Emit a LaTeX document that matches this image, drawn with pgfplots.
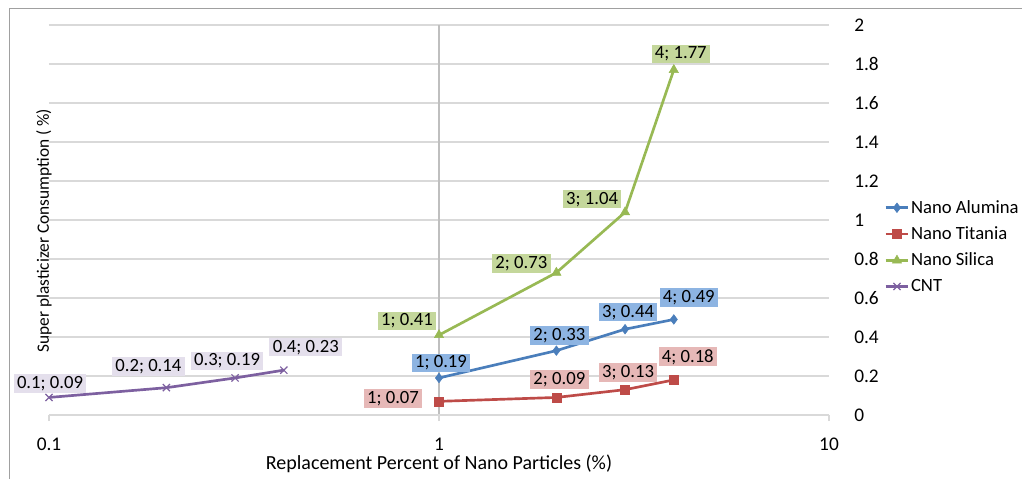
\documentclass[border=0pt]{standalone}
\usepackage{pgfplots}
\pgfplotsset{compat=1.18}
\usepackage{fontspec}
\setmainfont{Carlito}

\definecolor{alum}{HTML}{4A7EBB}
\definecolor{tita}{HTML}{BE4B48}
\definecolor{sili}{HTML}{98B954}
\definecolor{cnt}{HTML}{7D60A0}
\definecolor{alumL}{HTML}{8DB4E2}
\definecolor{titaL}{HTML}{E6B8B7}
\definecolor{siliL}{HTML}{C4D79B}
\definecolor{cntL}{HTML}{E4DFEC}
\definecolor{gridgray}{HTML}{D9D9D9}
\definecolor{axgray}{HTML}{BFBFBF}
\definecolor{framegray}{HTML}{A0A0A0}

\protected\def\sc{;}
% data label: fill colour, x, y, first part, x shift (pt), y shift (pt)
\newcommand{\lbl}[6]{%
  \addplot[forget plot, draw=none, mark=none,
    nodes near coords={#4\sc\ #3},
    every node near coord/.append style={anchor=center, xshift=#5pt, yshift=#6pt,
      fill=#1, text=black, font=\fontsize{14}{16}\selectfont, inner xsep=2.5pt, inner ysep=1.5pt}]
    coordinates {(#2,#3)};}

\begin{document}
\begin{tikzpicture}
\useasboundingbox (-36.75pt,-48pt) rectangle (729.75pt,311.25pt);
\begin{axis}[
  at={(0,0)}, anchor=south west,
  scale only axis, width=585pt, height=292.5pt,
  xmode=log, xmin=0.1, xmax=10, ymin=0, ymax=2,
  xtick={0.1,1,10}, xticklabels={0.1,1,10},
  xminorticks=false,
  ytick={0,0.2,0.4,0.6,0.8,1,1.2,1.4,1.6,1.8,2},
  yticklabels={0,0.2,0.4,0.6,0.8,1,1.2,1.4,1.6,1.8,2},
  yticklabel pos=right,
  xtick pos=left,
  ymajorgrids,
  major grid style={color=gridgray, line width=0.9pt},
  axis line style={draw=none},
  ytick style={draw=none},
  xtick style={draw=gridgray, line width=0.9pt},
  tick align=outside, major tick length=4.5pt,
  /pgf/number format/assume math mode=true,
  ticklabel style={font=\fontsize{14.5}{16}\selectfont},
  yticklabel style={anchor=west, inner sep=0pt, xshift=14.25pt},
  xticklabel style={anchor=base, inner sep=0pt, yshift=-21.75pt},
  every axis x label/.style={at={(rel axis cs:0.5,0)}, anchor=base, yshift=-40.5pt, font=\fontsize{15}{17}\selectfont},
  every axis y label/.style={at={(rel axis cs:0,0.5)}, rotate=90, anchor=base, xshift=-8pt, font=\fontsize{13}{15}\selectfont},
  xlabel={Replacement Percent of Nano Particles (\%)},
  ylabel={Super plasticizer Consumption ( \%)},
  clip=false,
  legend style={at={(1.0705,0.431)}, anchor=west, draw=none, fill=none,
    font=\fontsize{14}{16}\selectfont, inner sep=0pt,
    nodes={inner xsep=1pt, inner ysep=4.3pt}},
  legend cell align=left,
]
\draw[axgray, line width=1.5pt] (axis cs:1,0) -- (axis cs:1,2);
\draw[gridgray, line width=0.9pt] (axis cs:0.1,0) -- (axis cs:10,0);

\addplot[alum, line width=2pt, mark=diamond*, mark size=3.6pt, mark options={solid, line width=0.4pt}]
  coordinates {(1,0.19) (2,0.33) (3,0.44) (4,0.49)};
\addlegendentry{Nano Alumina}
\addplot[tita, line width=2pt, mark=square*, mark size=3.4pt, mark options={solid, line width=0.4pt}]
  coordinates {(1,0.07) (2,0.09) (3,0.13) (4,0.18)};
\addlegendentry{Nano Titania}
\addplot[sili, line width=2pt, mark=triangle*, mark size=4pt, mark options={solid, line width=0.4pt}]
  coordinates {(1,0.41) (2,0.73) (3,1.04) (4,1.77)};
\addlegendentry{Nano Silica}
\addplot[cnt, line width=2pt, mark=x, mark size=3.8pt, mark options={solid, line width=0.9pt}]
  coordinates {(0.1,0.09) (0.2,0.14) (0.3,0.19) (0.4,0.23)};
\addlegendentry{CNT}

\lbl{alumL}{1}{0.19}{1}{1.5}{11.25}
\lbl{alumL}{2}{0.33}{2}{2.25}{11.25}
\lbl{alumL}{3}{0.44}{3}{2.25}{12.75}
\lbl{alumL}{4}{0.49}{4}{11.25}{16.5}
\lbl{titaL}{1}{0.07}{1}{-34.5}{2.25}
\lbl{titaL}{2}{0.09}{2}{2.25}{13.5}
\lbl{titaL}{3}{0.13}{3}{2.25}{12.75}
\lbl{titaL}{4}{0.18}{4}{10.5}{17.25}
\lbl{siliL}{1}{0.41}{1}{-24}{10.5}
\lbl{siliL}{2}{0.73}{2}{-26.25}{6.75}
\lbl{siliL}{3}{1.04}{3}{-24.75}{9.75}
\lbl{siliL}{4}{1.77}{4}{5.25}{12}
\lbl{cntL}{0.1}{0.09}{0.1}{0.75}{10.5}
\lbl{cntL}{0.2}{0.14}{0.2}{-13.5}{15.75}
\lbl{cntL}{0.3}{0.19}{0.3}{-6}{12.75}
\lbl{cntL}{0.4}{0.23}{0.4}{16.5}{17.25}
\end{axis}
\draw[framegray, line width=0.75pt] (-29.25pt,-48pt) -- (-29.25pt,304.5pt) -- (729.75pt,304.5pt);
\end{tikzpicture}
\end{document}
